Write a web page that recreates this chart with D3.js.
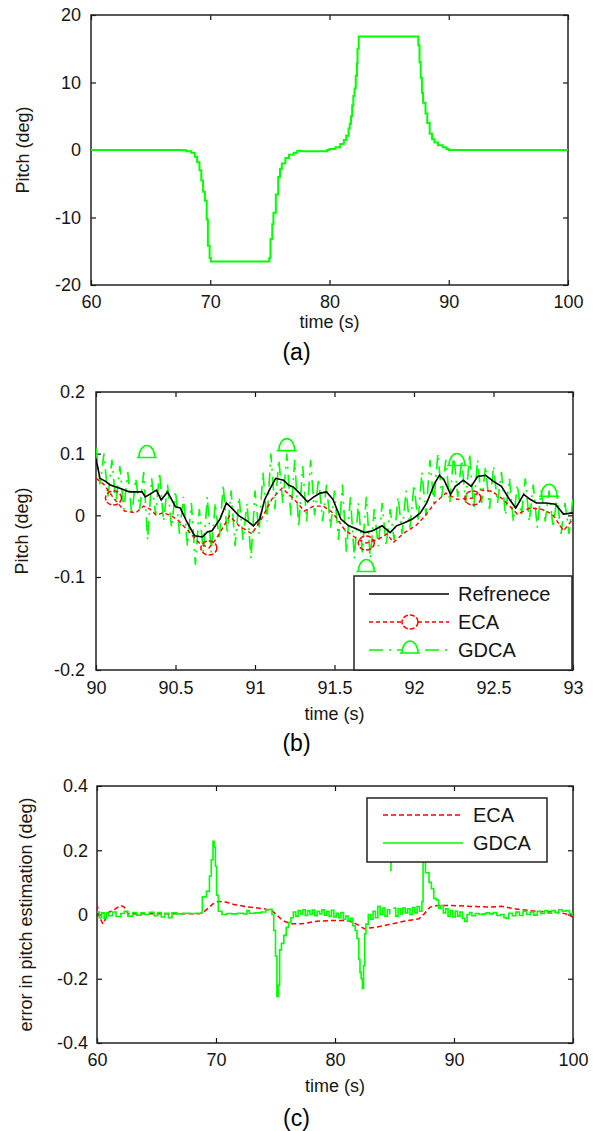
<!DOCTYPE html>
<html>
<head>
<meta charset="utf-8">
<script src="https://cdn.jsdelivr.net/npm/d3@7"></script>
<style>
body{margin:0;background:#fff;}
svg{display:block;font-family:"Liberation Sans",Arial,sans-serif;}
</style>
</head>
<body>
<svg width="593" height="1131"></svg>
<script>
// ---------- data ----------
// (a) pitch trajectory
const pitchA = [
  [60,0],[67.3,0],[67.6,-0.05],[68.0,-0.2],[68.4,-0.4],[68.7,-1.0],[68.9,-1.8],[69.1,-3.0],[69.25,-4.5],
  [69.4,-6.2],[69.55,-7.5],[69.7,-10.3],[69.8,-14.2],[69.95,-16.0],[70.05,-16.5],[74.8,-16.5],[74.95,-16.0],
  [75.05,-13.2],[75.2,-11],[75.3,-9.3],[75.5,-6.6],[75.7,-4.0],[75.85,-2.8],[76.0,-2.0],[76.3,-1.2],[76.6,-0.7],
  [77.0,-0.4],[77.3,-0.1],[77.6,-0.2],[79.5,-0.2],[79.8,0.0],[80.0,0.15],[80.5,0.4],[80.9,0.9],[81.2,1.5],
  [81.4,2.1],[81.6,3.2],[81.7,3.9],[81.8,5.0],[81.9,6.6],[82.0,8.0],[82.1,9.1],[82.2,11],[82.3,12.8],[82.35,15],
  [82.45,16.8],[87.3,16.8],[87.45,15.5],[87.55,13],[87.65,10.7],[87.75,8.5],[87.85,7.0],[88.05,5.4],[88.2,4.0],
  [88.4,2.4],[88.6,1.6],[88.8,1.1],[89.1,0.7],[89.5,0.4],[89.8,0.15],[90.0,0.0],[100,0]
];

// (b) zoomed pitch
const refB = [
  [90.0,0.092],[90.025,0.06],[90.06,0.055],[90.09,0.049],[90.15,0.044],[90.21,0.038],[90.29,0.038],[90.31,0.03],
  [90.35,0.036],[90.38,0.041],[90.41,0.025],[90.45,0.038],[90.5,0.014],[90.53,0.012],[90.57,-0.01],[90.62,-0.033],
  [90.67,-0.035],[90.70,-0.027],[90.73,-0.025],[90.78,-0.006],[90.82,0.02],[90.86,0.01],[90.9,-0.001],[90.95,-0.009],
  [90.99,-0.017],[91.03,-0.006],[91.06,0.025],[91.09,0.041],[91.13,0.06],[91.18,0.057],[91.21,0.049],[91.24,0.046],
  [91.28,0.036],[91.33,0.022],[91.37,0.03],[91.41,0.036],[91.45,0.038],[91.49,0.026],[91.54,-0.006],[91.59,-0.017],
  [91.64,-0.022],[91.69,-0.028],[91.74,-0.025],[91.8,-0.017],[91.85,-0.028],[91.89,-0.017],[91.94,-0.012],
  [91.99,-0.006],[92.04,0.004],[92.08,0.02],[92.13,0.052],[92.16,0.065],[92.19,0.057],[92.23,0.034],[92.26,0.047],
  [92.31,0.057],[92.36,0.047],[92.4,0.063],[92.45,0.065],[92.5,0.055],[92.55,0.047],[92.6,0.026],[92.64,0.012],
  [92.69,0.034],[92.73,0.026],[92.77,0.02],[92.83,0.02],[92.89,0.018],[92.94,0.002],[93.0,0.004]
];
const ecaB = [
  [90.0,0.06],[90.05,0.05],[90.11,0.028],[90.18,0.007],[90.25,0.004],[90.3,0.015],[90.34,0.01],[90.38,0.0],
  [90.42,0.004],[90.47,0.0],[90.52,-0.009],[90.59,-0.028],[90.65,-0.045],[90.71,-0.053],[90.75,-0.04],[90.78,-0.028],
  [90.84,-0.001],[90.9,-0.017],[90.95,-0.025],[90.98,-0.03],[91.04,-0.006],[91.11,0.028],[91.17,0.044],[91.24,0.028],
  [91.31,0.007],[91.37,0.015],[91.43,0.015],[91.49,0.004],[91.56,-0.022],[91.64,-0.038],[91.7,-0.045],[91.78,-0.038],
  [91.83,-0.03],[91.87,-0.044],[91.94,-0.028],[92.01,-0.017],[92.07,-0.001],[92.13,0.02],[92.2,0.036],[92.27,0.026],
  [92.37,0.028],[92.42,0.041],[92.49,0.039],[92.56,0.026],[92.65,0.002],[92.73,0.012],[92.8,0.01],[92.87,0.002],
  [92.94,-0.025],[93.0,-0.006]
];
// GDCA samples, one every 0.025 s from 90 s
const gdcaBStart = 90, gdcaBStep = 0.025;
const gdcaB = [
  0.11,0.05,0.10,0.03,0.09,0.02,0.08,0.01,0.07,0.00,0.06,0.01,0.07,-0.04,0.06,0.00,
  0.07,-0.01,0.05,-0.02,0.04,-0.03,0.03,-0.05,0.02,-0.08,0.01,-0.06,0.03,-0.06,0.02,-0.04,
  0.05,-0.03,0.04,-0.05,0.03,-0.04,0.02,-0.07,0.04,-0.03,0.07,-0.01,0.10,0.01,0.09,0.02,
  0.10,0.00,0.09,-0.02,0.08,-0.01,0.09,0.00,0.06,-0.01,0.05,-0.02,0.04,-0.04,0.05,-0.06,
  0.03,-0.07,0.02,-0.06,0.03,-0.07,0.01,-0.05,0.02,-0.05,0.01,-0.04,0.03,-0.03,0.04,-0.02,
  0.05,-0.01,0.07,0.00,0.09,0.02,0.10,0.03,0.09,0.02,0.10,0.03,0.09,0.02,0.10,0.01,
  0.09,0.02,0.08,0.01,0.08,0.02,0.07,0.00,0.06,-0.01,0.05,0.00,0.06,-0.01,0.05,-0.02,
  0.04,-0.01,0.04,-0.02,0.03,-0.03,0.02,-0.03,0.03
];
const ecaMarkB = [[90.11,0.028],[90.71,-0.053],[91.7,-0.045],[92.37,0.028]];
const gdcaMarkB = [[90.32,0.102],[91.2,0.113],[91.7,-0.083],[92.27,0.089],[92.85,0.039]];

// (c) estimation error
const ecaC = [
  [60,0.033],[60.2,-0.008],[60.5,-0.029],[61.0,0.007],[61.3,0.012],[62.0,0.028],[62.3,0.023],[62.6,0.002],
  [68.6,0.002],[68.95,0.007],[69.75,0.033],[70.2,0.041],[70.9,0.038],[71.5,0.031],[72.8,0.023],[74.0,0.018],
  [74.7,0.012],[75.15,-0.003],[75.6,-0.019],[76.3,-0.029],[77.2,-0.029],[78.5,-0.021],[79.7,-0.019],[81.0,-0.019],
  [81.5,-0.024],[82.0,-0.034],[82.45,-0.044],[83.55,-0.039],[84.8,-0.029],[86.1,-0.019],[87.05,-0.013],[87.5,0.002],
  [88.0,0.023],[88.6,0.028],[89.9,0.028],[91.5,0.025],[93.1,0.023],[94.0,0.026],[95.0,0.018],[96.9,0.01],
  [98.5,0.007],[99.4,0.002],[100,-0.008]
];
const gdcaC = [
  [60.0,0.008],[60.2,-0.01],[60.4,0.005],[60.6,-0.012],[60.8,0.006],[61.0,-0.004],[61.3,0.008],[61.6,-0.006],
  [62.0,0.003],[62.3,0.01],[62.6,-0.005],[63.0,0.006],[63.3,-0.002],[63.7,0.005],[64.0,0.0],[64.4,0.007],
  [64.8,-0.004],[65.1,0.006],[65.4,-0.008],[65.7,0.004],[66.0,-0.01],[66.3,0.005],[66.7,0.002],[67.2,0.004],
  [67.8,0.003],[68.3,0.004],[68.8,0.006],[68.85,0.055],[69.2,0.072],[69.45,0.12],[69.6,0.17],[69.75,0.228],
  [69.85,0.21],[69.95,0.15],[70.05,0.06],[70.2,0.01],[70.5,0.0],[70.9,0.003],[71.3,0.002],[71.8,0.004],
  [72.3,0.002],[72.6,0.012],[72.8,0.004],[73.3,0.005],[73.8,0.008],[74.2,0.015],[74.5,0.016],[74.7,0.0],
  [74.85,-0.05],[75.0,-0.13],[75.12,-0.255],[75.25,-0.22],[75.35,-0.11],[75.5,-0.09],[75.7,-0.065],[75.9,-0.04],
  [76.1,-0.025],[76.3,-0.01],[76.5,0.008],[76.7,-0.005],[76.9,0.012],[77.1,0.002],[77.3,0.015],[77.5,-0.003],
  [77.7,0.012],[77.9,0.0],[78.1,0.014],[78.3,-0.004],[78.5,0.01],[78.7,0.002],[78.9,0.015],[79.1,-0.002],
  [79.3,0.01],[79.5,-0.005],[79.7,0.013],[79.9,-0.008],[80.1,0.004],[80.3,-0.01],[80.5,0.006],[80.7,-0.015],
  [80.9,-0.005],[81.1,-0.02],[81.3,-0.012],[81.5,-0.035],[81.7,-0.05],[81.85,-0.075],[82.0,-0.14],[82.1,-0.18],
  [82.2,-0.2],[82.3,-0.23],[82.4,-0.16],[82.5,-0.06],[82.6,-0.03],[82.8,0.0],[83.0,-0.015],[83.2,0.01],
  [83.4,-0.01],[83.6,0.025],[83.8,0.0],[84.0,0.02],[84.2,-0.005],[84.4,0.015],[84.6,0.0],[84.66,null],
  [84.7,0.135],[84.7,0.2],[84.74,null],[84.9,0.02],[85.1,-0.005],[85.3,0.018],[85.5,0.002],[85.7,0.02],
  [85.9,0.005],[86.1,0.018],[86.3,0.0],[86.5,0.022],[86.7,0.005],[86.9,0.025],[87.1,0.01],[87.3,0.04],
  [87.4,0.2],[87.5,0.2],[87.6,0.13],[87.75,0.13],[87.9,0.1],[88.1,0.08],[88.3,0.05],[88.5,0.045],
  [88.7,0.02],[88.9,0.028],[89.1,0.005],[89.3,0.018],[89.5,-0.005],[89.7,0.012],[89.9,-0.008],[90.1,0.01],
  [90.3,-0.005],[90.5,0.008],[90.7,-0.012],[90.9,-0.022],[91.1,0.0],[91.3,0.006],[91.5,-0.004],[91.8,0.003],
  [92.1,0.0],[92.4,0.002],[92.7,0.005],[93.0,0.002],[93.3,0.006],[93.6,-0.003],[93.9,0.0],[94.2,-0.01],
  [94.4,-0.012],[94.6,0.004],[94.9,-0.004],[95.2,0.008],[95.5,-0.003],[95.8,0.01],[96.1,0.0],[96.4,0.008],
  [96.7,-0.002],[97.0,0.01],[97.3,0.003],[97.6,0.012],[97.9,0.004],[98.2,0.012],[98.5,0.006],[98.8,0.015],
  [99.1,0.01],[99.4,0.012],[99.7,0.004],[100,-0.005]
];

// ticks and labels
const xTicksA = [60,70,80,90,100];
const yTicksA = [-20,-10,0,10,20];
const xTicksB = [90,90.5,91,91.5,92,92.5,93];
const yTicksB = [-0.2,-0.1,0,0.1,0.2];
const xTicksC = [60,70,80,90,100];
const yTicksC = [-0.4,-0.2,0,0.2,0.4];
const legendB = ["Refrenece","ECA","GDCA"];
const legendC = ["ECA","GDCA"];

// ---------- drawing ----------
const svg = d3.select("svg");
const green = "#00ff00", red = "#ff0000";
const fmt = d => String(+(+d).toFixed(2));
const gdcaDash = "14,6,2,6";
const ecaDash = "4,3";

function panel(id, box, x, y, xt, yt, pad) {
  const g = svg.append("g");
  g.append("clipPath").attr("id", id)
    .append("rect").attr("x", box.l).attr("y", box.t)
    .attr("width", box.r - box.l).attr("height", box.b - box.t);
  const axes = g.append("g");
  const style = s => {
    s.select(".domain").remove();
    s.selectAll(".tick line").attr("stroke", "#111").attr("stroke-width", 1.2);
    s.selectAll("text").attr("fill", "#151515").attr("font-size", 18)
      .attr("font-family", '"Liberation Sans",Arial,sans-serif');
  };
  axes.append("g").attr("transform", `translate(0,${box.b})`)
    .call(d3.axisBottom(x).tickValues(xt).tickSize(-5).tickPadding(pad.x).tickFormat(fmt)).call(style);
  axes.append("g").attr("transform", `translate(0,${box.t})`)
    .call(d3.axisTop(x).tickValues(xt).tickSize(-5).tickFormat("")).call(style);
  axes.append("g").attr("transform", `translate(${box.l},0)`)
    .call(d3.axisLeft(y).tickValues(yt).tickSize(-5).tickPadding(pad.y).tickFormat(fmt)).call(style);
  axes.append("g").attr("transform", `translate(${box.r},0)`)
    .call(d3.axisRight(y).tickValues(yt).tickSize(-5).tickFormat("")).call(style);
  g.append("rect").attr("x", box.l).attr("y", box.t)
    .attr("width", box.r - box.l).attr("height", box.b - box.t)
    .attr("fill", "none").attr("stroke", "#222").attr("stroke-width", 1.5);
  const plot = g.append("g").attr("clip-path", `url(#${id})`);
  return {g, plot};
}

function labels(g, box, ylab, tag, xlabY, tagY, ylabX) {
  const cx = (box.l + box.r) / 2;
  g.append("text").attr("x", cx).attr("y", xlabY).attr("dy", "0.35em")
    .attr("text-anchor", "middle").attr("font-size", 18).attr("fill", "#151515").text("time (s)");
  g.append("text").attr("transform", `translate(${ylabX},${(box.t + box.b) / 2}) rotate(-90)`)
    .attr("dy", "0.35em").attr("text-anchor", "middle").attr("font-size", 18)
    .attr("fill", "#201810").text(ylab);
  g.append("text").attr("x", 296.5).attr("y", tagY).attr("dy", "0.35em")
    .attr("text-anchor", "middle").attr("font-size", 23).attr("fill", "#000").text(tag);
}

const dome = "M-10,5 H10 M-8,5 A8,12 0 0 1 8,5";

// ---- (a)
const boxA = {l: 91, r: 568, t: 15, b: 285};
const xA = d3.scaleLinear().domain([60, 100]).range([boxA.l, boxA.r]);
const yA = d3.scaleLinear().domain([-20, 20]).range([boxA.b, boxA.t]);
const pA = panel("clipA", boxA, xA, yA, xTicksA, yTicksA, {x: 10, y: 10});
pA.plot.append("path").datum(pitchA)
  .attr("d", d3.line().x(d => xA(d[0])).y(d => yA(d[1])).curve(d3.curveStepAfter))
  .attr("fill", "none").attr("stroke", green).attr("stroke-width", 2);
labels(pA.g, boxA, "Pitch (deg)", "(a)", 322, 352, 23);

// ---- (b)
const boxB = {l: 96, r: 573, t: 392, b: 670};
const xB = d3.scaleLinear().domain([90, 93]).range([boxB.l, boxB.r]);
const yB = d3.scaleLinear().domain([-0.2, -0.1, 0.2]).range([boxB.b, 577, boxB.t]);
const pB = panel("clipB", boxB, xB, yB, xTicksB, yTicksB, {x: 11, y: 11});
const lineB = d3.line().x(d => xB(d[0])).y(d => yB(d[1]));
pB.plot.append("path").datum(gdcaB.map((v, i) => [gdcaBStart + i * gdcaBStep, v]))
  .attr("d", lineB).attr("fill", "none").attr("stroke", green)
  .attr("stroke-width", 1.6).attr("stroke-dasharray", gdcaDash);
pB.plot.append("path").datum(ecaB)
  .attr("d", lineB).attr("fill", "none").attr("stroke", red)
  .attr("stroke-width", 1.4).attr("stroke-dasharray", ecaDash);
pB.plot.append("path").datum(refB)
  .attr("d", lineB).attr("fill", "none").attr("stroke", "#000")
  .attr("stroke-width", 1.6);
pB.plot.selectAll(".mk-eca").data(ecaMarkB).join("ellipse")
  .attr("cx", d => xB(d[0])).attr("cy", d => yB(d[1])).attr("rx", 8).attr("ry", 7)
  .attr("fill", "none").attr("stroke", red).attr("stroke-width", 1.5).attr("stroke-dasharray", "5,2");
pB.plot.selectAll(".mk-gdca").data(gdcaMarkB).join("path")
  .attr("transform", d => `translate(${xB(d[0])},${yB(d[1])})`).attr("d", dome)
  .attr("fill", "none").attr("stroke", green).attr("stroke-width", 1.6);
labels(pB.g, boxB, "Pitch (deg)", "(b)", 714, 743, 22);

// legend (b)
const lgB = pB.g.append("g");
lgB.append("rect").attr("x", 354).attr("y", 576).attr("width", 572 - 354).attr("height", 670 - 576)
  .attr("fill", "#fff").attr("stroke", "#222").attr("stroke-width", 1.5);
const lgStyles = [
  {stroke: "#000", dash: null},
  {stroke: red, dash: ecaDash},
  {stroke: green, dash: gdcaDash}
];
legendB.forEach((name, i) => {
  const yy = 594 + i * 28;
  lgB.append("line").attr("x1", 369).attr("x2", 449).attr("y1", yy).attr("y2", yy)
    .attr("stroke", lgStyles[i].stroke).attr("stroke-width", 1.5)
    .attr("stroke-dasharray", lgStyles[i].dash);
  if (i === 1) lgB.append("ellipse").attr("cx", 410).attr("cy", yy).attr("rx", 8).attr("ry", 7)
    .attr("fill", "#fff").attr("stroke", red).attr("stroke-width", 1.5).attr("stroke-dasharray", "5,2");
  if (i === 2) lgB.append("path").attr("transform", `translate(410,${yy - 2})`).attr("d", dome)
    .attr("fill", "#fff").attr("stroke", green).attr("stroke-width", 1.6);
  lgB.append("text").attr("x", 458).attr("y", yy).attr("dy", "0.35em")
    .attr("font-size", 20).attr("fill", "#151515").text(name);
});

// ---- (c)
const boxC = {l: 97, r: 573, t: 786, b: 1043};
const xC = d3.scaleLinear().domain([60, 100]).range([boxC.l, boxC.r]);
const yC = d3.scaleLinear().domain([-0.4, 0.4]).range([boxC.b, boxC.t]);
const pC = panel("clipC", boxC, xC, yC, xTicksC, yTicksC, {x: 10, y: 9});
const lineC = d3.line().defined(d => d[1] !== null).x(d => xC(d[0])).y(d => yC(d[1]));
pC.plot.append("path").datum(ecaC).attr("d", lineC)
  .attr("fill", "none").attr("stroke", red).attr("stroke-width", 1.5).attr("stroke-dasharray", "5,3");
pC.plot.append("path").datum(gdcaC).attr("d", lineC.curve(d3.curveStepAfter))
  .attr("fill", "none").attr("stroke", green).attr("stroke-width", 1.6);
labels(pC.g, boxC, "error in pitch estimation (deg)", "(c)", 1086, 1118, 26);

// legend (c)
const lgC = pC.g.append("g");
lgC.append("rect").attr("x", 367).attr("y", 798).attr("width", 547 - 367).attr("height", 862 - 798)
  .attr("fill", "#fff").attr("stroke", "#222").attr("stroke-width", 1.5);
legendC.forEach((name, i) => {
  const yy = 815 + i * 28;
  lgC.append("line").attr("x1", 383).attr("x2", 463).attr("y1", yy).attr("y2", yy)
    .attr("stroke", i === 0 ? red : green).attr("stroke-width", 1.5)
    .attr("stroke-dasharray", i === 0 ? "5,3" : null);
  lgC.append("text").attr("x", 473).attr("y", yy).attr("dy", "0.35em")
    .attr("font-size", 20).attr("fill", "#151515").text(name);
});
</script>
</body>
</html>
